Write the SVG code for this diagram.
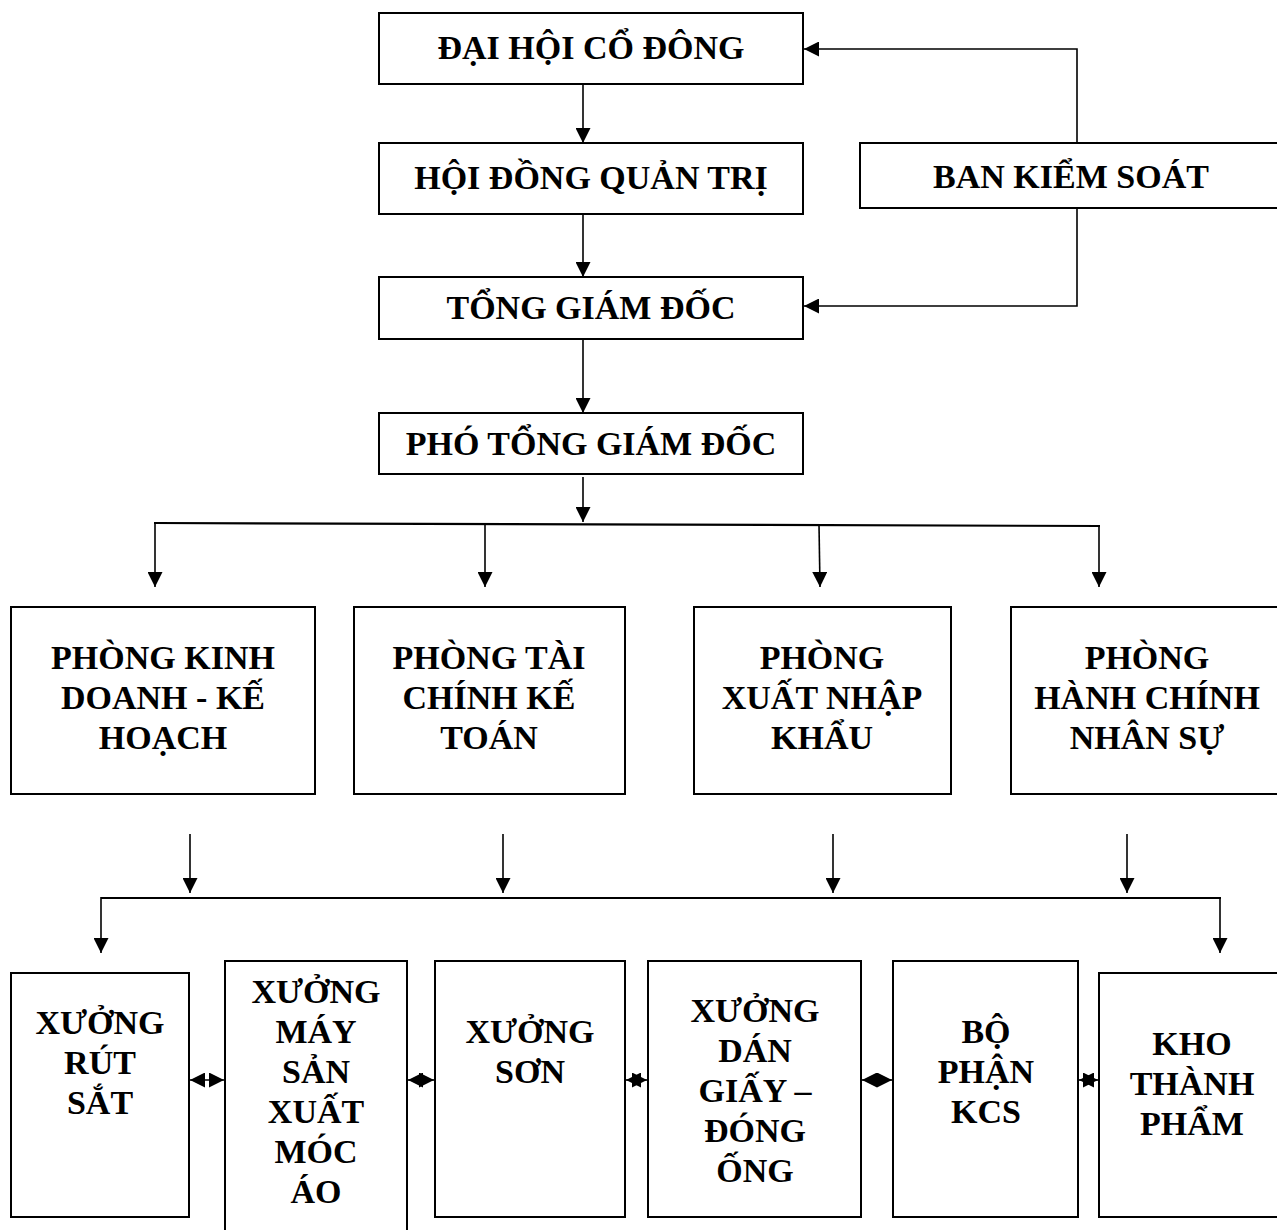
<svg xmlns="http://www.w3.org/2000/svg" width="1277" height="1230" viewBox="0 0 1277 1230">
<style>
.box{fill:#fff;stroke:#000;stroke-width:2}
.t{font-family:"Liberation Serif","Times New Roman",serif;font-weight:bold;font-size:34px;text-anchor:middle;fill:#000}
.ln{fill:none;stroke:#000;stroke-width:1.6}
.bus{fill:none;stroke:#000;stroke-width:2.2}
.arr{marker-end:url(#ah)}
.dbl{marker-start:url(#ah);marker-end:url(#ah)}
</style>
<defs>
<marker id="ah" markerUnits="userSpaceOnUse" markerWidth="15" markerHeight="15" refX="15" refY="7.5" orient="auto-start-reverse">
<path d="M0,0 L15,7.5 L0,15 z" fill="#000"/>
</marker>
</defs>
<rect width="1277" height="1230" fill="#fff"/>

<g id="dai-hoi-co-dong"><rect class="box" x="379" y="13" width="424" height="71"/><text class="t" x="591" y="59">ĐẠI HỘI CỔ ĐÔNG</text></g>
<g id="hoi-dong-quan-tri"><rect class="box" x="379" y="143" width="424" height="71"/><text class="t" x="591" y="189">HỘI ĐỒNG QUẢN TRỊ</text></g>
<g id="ban-kiem-soat"><rect class="box" x="860" y="143" width="424" height="65"/><text class="t" x="1071" y="188">BAN KIỂM SOÁT</text></g>
<g id="tong-giam-doc"><rect class="box" x="379" y="277" width="424" height="62"/><text class="t" x="591" y="319">TỔNG GIÁM ĐỐC</text></g>
<g id="pho-tong-giam-doc"><rect class="box" x="379" y="413" width="424" height="61"/><text class="t" x="591" y="455">PHÓ TỔNG GIÁM ĐỐC</text></g>

<g id="phong-kinh-doanh"><rect class="box" x="11" y="607" width="304" height="187"/>
<text class="t" x="163" y="669">PHÒNG KINH</text><text class="t" x="163" y="709">DOANH - KẾ</text><text class="t" x="163" y="749">HOẠCH</text></g>
<g id="phong-tai-chinh"><rect class="box" x="354" y="607" width="271" height="187"/>
<text class="t" x="489" y="669">PHÒNG TÀI</text><text class="t" x="489" y="709">CHÍNH KẾ</text><text class="t" x="489" y="749">TOÁN</text></g>
<g id="phong-xuat-nhap-khau"><rect class="box" x="694" y="607" width="257" height="187"/>
<text class="t" x="822" y="669">PHÒNG</text><text class="t" x="822" y="709">XUẤT NHẬP</text><text class="t" x="822" y="749">KHẨU</text></g>
<g id="phong-hanh-chinh"><rect class="box" x="1011" y="607" width="275" height="187"/>
<text class="t" x="1147" y="669">PHÒNG</text><text class="t" x="1147" y="709">HÀNH CHÍNH</text><text class="t" x="1147" y="749">NHÂN SỰ</text></g>

<g id="xuong-rut-sat"><rect class="box" x="11" y="973" width="178" height="244"/>
<text class="t" x="100" y="1034">XƯỞNG</text><text class="t" x="100" y="1074">RÚT</text><text class="t" x="100" y="1114">SẮT</text></g>
<g id="xuong-may-moc-ao"><rect class="box" x="225" y="961" width="182" height="280"/>
<text class="t" x="316" y="1003">XƯỞNG</text><text class="t" x="316" y="1043">MÁY</text><text class="t" x="316" y="1083">SẢN</text><text class="t" x="316" y="1123">XUẤT</text><text class="t" x="316" y="1163">MÓC</text><text class="t" x="316" y="1203">ÁO</text></g>
<g id="xuong-son"><rect class="box" x="435" y="961" width="190" height="256"/>
<text class="t" x="530" y="1043">XƯỞNG</text><text class="t" x="530" y="1083">SƠN</text></g>
<g id="xuong-dan-giay"><rect class="box" x="648" y="961" width="213" height="256"/>
<text class="t" x="755" y="1022">XƯỞNG</text><text class="t" x="755" y="1062">DÁN</text><text class="t" x="755" y="1102">GIẤY –</text><text class="t" x="755" y="1142">ĐÓNG</text><text class="t" x="755" y="1182">ỐNG</text></g>
<g id="bo-phan-kcs"><rect class="box" x="893" y="961" width="185" height="256"/>
<text class="t" x="986" y="1043">BỘ</text><text class="t" x="986" y="1083">PHẬN</text><text class="t" x="986" y="1123">KCS</text></g>
<g id="kho-thanh-pham"><rect class="box" x="1099" y="973" width="187" height="244"/>
<text class="t" x="1192" y="1055">KHO</text><text class="t" x="1192" y="1095">THÀNH</text><text class="t" x="1192" y="1135">PHẨM</text></g>

<g id="connectors">
<line class="ln arr" x1="583" y1="84" x2="583" y2="143"/>
<line class="ln arr" x1="583" y1="214" x2="583" y2="277"/>
<line class="ln arr" x1="583" y1="339" x2="583" y2="413"/>
<polyline class="ln arr" points="1077,143 1077,49 804,49"/>
<polyline class="ln arr" points="1077,208 1077,306 804,306"/>
<line class="ln arr" x1="583" y1="477" x2="583" y2="522"/>
<line class="bus" x1="154" y1="523" x2="1100" y2="526"/>
<line class="ln arr" x1="155" y1="523" x2="155" y2="587"/>
<line class="ln arr" x1="485" y1="524" x2="485" y2="587"/>
<line class="ln arr" x1="819" y1="525" x2="820" y2="587"/>
<line class="ln arr" x1="1099" y1="526" x2="1099" y2="587"/>
<line class="ln arr" x1="190" y1="834" x2="190" y2="893"/>
<line class="ln arr" x1="503" y1="834" x2="503" y2="893"/>
<line class="ln arr" x1="833" y1="834" x2="833" y2="893"/>
<line class="ln arr" x1="1127" y1="834" x2="1127" y2="893"/>
<line class="bus" x1="101" y1="898" x2="1221" y2="898"/>
<line class="ln arr" x1="101" y1="897" x2="101" y2="953"/>
<line class="ln arr" x1="1220" y1="897" x2="1220" y2="953"/>
<line class="ln dbl" x1="190" y1="1080" x2="224" y2="1080"/>
<line class="ln dbl" x1="408" y1="1080" x2="434" y2="1080"/>
<line class="ln dbl" x1="626" y1="1080" x2="647" y2="1080"/>
<line class="ln dbl" x1="862" y1="1080" x2="892" y2="1080"/>
<line class="ln dbl" x1="1079" y1="1080" x2="1098" y2="1080"/>
</g>
</svg>
